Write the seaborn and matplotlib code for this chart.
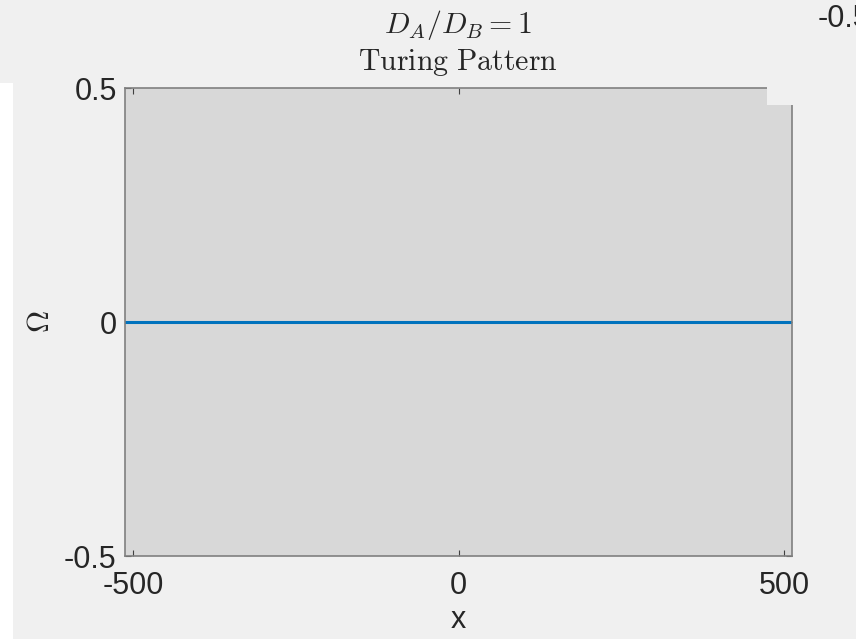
import matplotlib
matplotlib.use("Agg")
import matplotlib.pyplot as plt
from matplotlib.patches import Rectangle
import seaborn as sns
import pandas as pd

# data
x_vals = [-512, 512]
omega_vals = [0.0, 0.0]
x_ticks = [-500, 0, 500]
y_ticks = [-0.5, 0, 0.5]
y_tick_labels = ["-0.5", "0", "0.5"]
x_tick_labels = ["-500", "0", "500"]
title_top = r"$D_A/D_B = 1$"
title_sub = r"$\mathrm{Turing\ Pattern}$"

sns.set_theme(style="ticks")
plt.rcParams["font.family"] = ["Liberation Sans", "DejaVu Sans"]
plt.rcParams["mathtext.fontset"] = "cm"

W, H = 856, 639
fig = plt.figure(figsize=(W / 100, H / 100), dpi=100)
fig.patch.set_facecolor("#f0f0f0")

L, R, T, B = 125, 792, 88, 556
ax = fig.add_axes([L / W, 1 - B / H, (R - L) / W, (B - T) / H])
ax.set_facecolor("#d8d8d8")

df = pd.DataFrame({"x": x_vals, "omega": omega_vals})
sns.lineplot(data=df, x="x", y="omega", ax=ax, color="#0072bd", linewidth=2.2)

ax.set_xlim(-512, 512)
ax.set_ylim(-0.5, 0.5)
ax.set_xticks(x_ticks)
ax.set_xticklabels(x_tick_labels)
ax.set_yticks(y_ticks)
ax.set_yticklabels(y_tick_labels)
ax.tick_params(axis="both", direction="in", length=4, width=0.8, color="#404040",
               labelsize=22, labelcolor="#262626", top=True, right=True)
ax.tick_params(axis="x", pad=11)
ax.tick_params(axis="y", pad=6)
for s in ax.spines.values():
    s.set_color("#808080")
    s.set_linewidth(1.2)
ax.set_xlabel("x", fontsize=22, color="#262626", labelpad=3)
ax.set_ylabel(r"$\Omega$", fontsize=22, color="#262626", labelpad=6)

fig.text(458 / W, 1 - 25 / H, title_top, ha="center", va="center", fontsize=21.5, color="#262626")
fig.text(458 / W, 1 - 63 / H, title_sub, ha="center", va="center", fontsize=21.5, color="#262626")

# screenshot artifacts
fig.text(818 / W, 1 - 19 / H, "-0.5", ha="left", va="center", fontsize=22, color="#262626")
fig.add_artist(Rectangle((0, 0), 13 / W, 1 - 83 / H, transform=fig.transFigure,
                         facecolor="white", edgecolor="none", zorder=5))
fig.add_artist(Rectangle((767 / W, 1 - 105 / H), 40 / W, 25 / H, transform=fig.transFigure,
                         facecolor="#f0f0f0", edgecolor="none", zorder=5))

fig.savefig("out.png", dpi=100, facecolor=fig.get_facecolor())
